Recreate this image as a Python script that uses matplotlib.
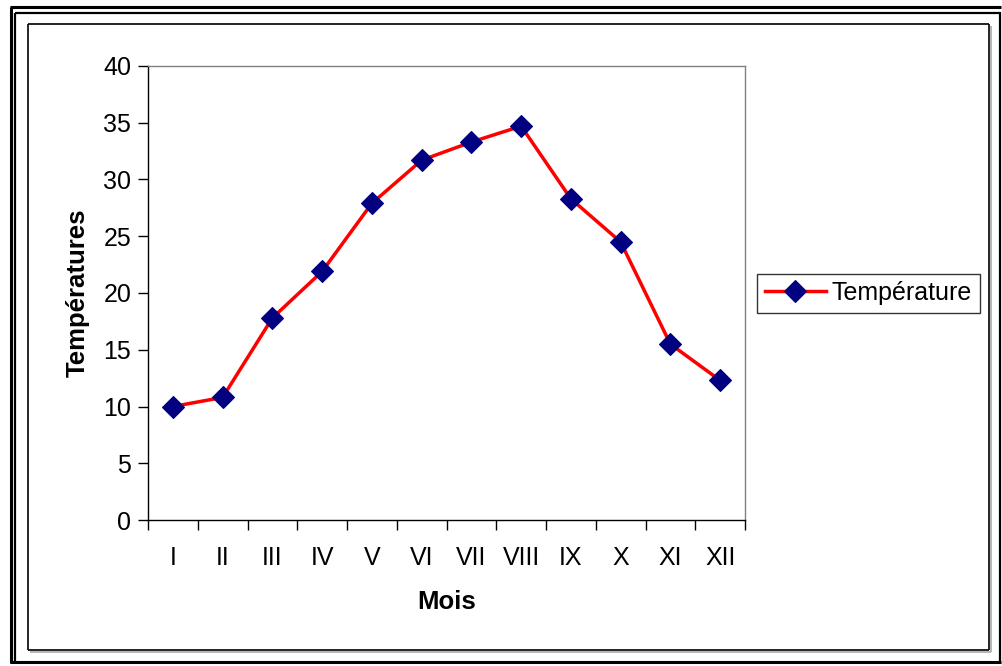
import matplotlib
matplotlib.use("Agg")
import matplotlib.pyplot as plt
from matplotlib.lines import Line2D

# Monthly temperatures
months = ["I", "II", "III", "IV", "V", "VI", "VII", "VIII", "IX", "X", "XI", "XII"]
temperatures = [10.0, 10.8, 17.8, 21.9, 27.9, 31.7, 33.3, 34.7, 28.3, 24.5, 15.5, 12.3]
y_ticks = [0, 5, 10, 15, 20, 25, 30, 35, 40]

W, H = 1002, 666
plt.rcParams["font.family"] = ["Liberation Sans", "DejaVu Sans"]

fig = plt.figure(figsize=(W / 100, H / 100), dpi=100)
fig.patch.set_facecolor("white")


def px_line(x0, y0, x1, y1, lw=1.0, color="black"):
    fig.add_artist(Line2D([x0 / W, x1 / W], [1 - y0 / H, 1 - y1 / H],
                          transform=fig.transFigure, color=color, lw=lw,
                          solid_capstyle="butt"))


# Page frame (double rule)
px_line(10, 7, 1001, 7, lw=2.2)
px_line(11, 7, 11, 663, lw=2.2)
px_line(15, 13, 1001, 13, lw=1.6)
px_line(15, 13, 15, 663, lw=1.6)
px_line(1000, 13, 1000, 663, lw=1.6)
px_line(10, 662, 1001, 662, lw=2.2)

# Chart area border with a light shadow on the right and bottom
px_line(990.5, 26, 990.5, 652, lw=1.2, color="#a8a8a8")
px_line(30, 651.5, 991, 651.5, lw=1.2, color="#a8a8a8")
px_line(28, 24, 989, 24, lw=1.2)
px_line(28, 650, 989, 650, lw=1.2)
px_line(28, 24, 28, 650, lw=1.2)
px_line(989, 24, 989, 650, lw=1.2)

ax = fig.add_axes([148 / W, 1 - 520 / H, (745 - 148) / W, (520 - 66) / H])
x = list(range(len(months)))
ax.plot(x, temperatures, color="red", lw=2.5, marker="D", markersize=11,
        markerfacecolor="#000080", markeredgecolor="#000080",
        markeredgewidth=0.8, label="Température", zorder=3)

ax.set_xlim(-0.5, len(months) - 0.5)
ax.set_ylim(0, 40)
ax.set_yticks(y_ticks)
ax.set_xticks(x)
ax.set_xticklabels(months)
ax.set_xticks([i - 0.5 for i in range(len(months) + 1)], minor=True)
ax.tick_params(axis="x", which="major", length=0, pad=19, labelsize=18)
ax.tick_params(axis="x", which="minor", length=7, width=1, direction="out")
ax.tick_params(axis="y", length=7, width=1, direction="out", pad=5, labelsize=18)

for side in ("top", "right"):
    ax.spines[side].set_color("#808080")
    ax.spines[side].set_linewidth(1.0)
for side in ("left", "bottom"):
    ax.spines[side].set_color("black")
    ax.spines[side].set_linewidth(1.0)

ax.set_xlabel("Mois", fontsize=18.5, fontweight="bold", labelpad=14)
ax.set_ylabel("Températures", fontsize=18.5, fontweight="bold", labelpad=10)

leg = ax.legend(loc="center left", bbox_to_anchor=(757 / W, 1 - 293 / H),
                bbox_transform=fig.transFigure, frameon=True, fancybox=False,
                fontsize=18, handlelength=2.45, handletextpad=0.25,
                borderpad=0.3, borderaxespad=0)
leg.get_frame().set_edgecolor("black")
leg.get_frame().set_linewidth(1.0)

fig.savefig("out.png", dpi=100, facecolor="white")
